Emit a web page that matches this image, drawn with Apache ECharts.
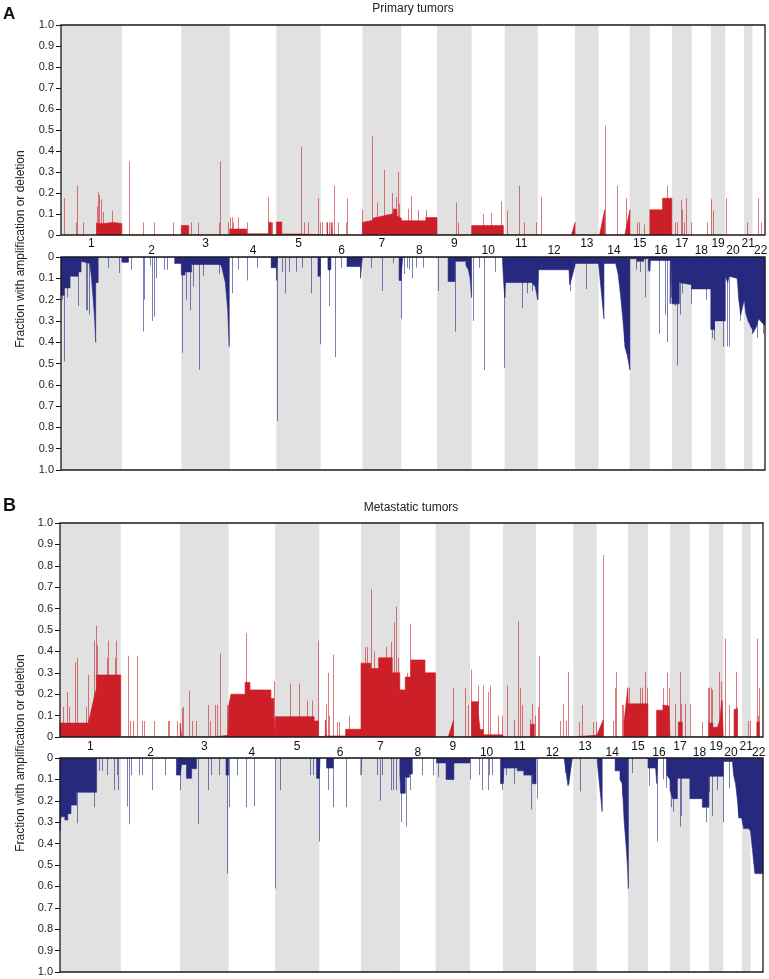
<!DOCTYPE html>
<html><head><meta charset="utf-8">
<script src="https://cdn.jsdelivr.net/npm/echarts@6/dist/echarts.min.js"></script>
<style>html,body{margin:0;padding:0;background:#fff}#c{width:769px;height:979px}</style>
</head><body><div id="c"></div>
<script>
// ---------- chromosome layout ----------
const chromNames = ['1','2','3','4','5','6','7','8','9','10','11','12','13','14','15','16','17','18','19','20','21','22'];
const chromLenMb = [249.25,243.2,198.02,191.15,180.92,171.12,159.14,146.36,141.21,135.53,135.01,133.85,115.17,107.35,102.53,90.35,81.2,78.08,59.13,63.03,48.13,51.3];
const chromCoveredFromMb = [0,0,0,0,0,0,0,0,0,0,0,0,19,19,20,0,0,0,0,0,13,16];
const yTickValues = [0,0.1,0.2,0.3,0.4,0.5,0.6,0.7,0.8,0.9,1.0];
const panelTitles = ['Primary tumors','Metastatic tumors'];
const panelLetters = ['A','B'];
const yAxisTitle = 'Fraction with amplification or deletion';

// ---------- Panel A (primary) : [chromosome, position Mb, fraction] ----------
const ampProfileA = [
 [1,146,0.055],[1,175,0.055],[1,175,0.06],[1,215,0.06],[1,215,0.055],[1,249,0.055],
 [3,0,0.045],[3,30,0.045],
 [4,0,0.028],[4,70,0.028],[4,70,0.006],[4,160,0.006],[4,160,0.06],[4,172,0.06],
 [5,0,0.062],[5,22,0.062],[5,22,0.005],[5,98,0.005],
 [6,26,0.06],[6,29,0.06],[6,29,0],[6,43,0],[6,43,0.06],[6,47,0.06],
 [7,0,0.06],[7,5,0.068],[7,43,0.07],[7,43,0.08],[7,84,0.09],[7,100,0.095],[7,125,0.1],[7,128,0.125],[7,141,0.12],[7,141,0.09],[7,159,0.08],
 [8,0,0.068],[8,100,0.068],[8,100,0.083],[8,146,0.083],
 [10,0,0.045],[10,130,0.045],
 [13,4,0],[13,19,0.06],
 [14,4,0],[14,25,0.12],
 [15,0,0],[15,21,0.12],
 [16,0,0.12],[16,52,0.12],[16,52,0.175],[16,90,0.175]
];
const ampSpikesA = [
 [1,13,0.175],[1,61,0.06],[1,67,0.235],[1,91,0.06],[1,143,0.06],[1,148,0.135],[1,152,0.205],[1,157,0.19],[1,164,0.17],[1,173,0.11],[1,209,0.115],
 [2,30,0.35],[2,85,0.06],[2,130,0.06],[2,208,0.06],
 [3,38,0.06],[3,68,0.06],[3,155,0.06],[3,160,0.35],[3,190,0.06],
 [4,0,0.085],[4,8,0.085],[4,15,0.06],[4,34,0.085],[4,70,0.06],[4,157,0.18],[4,172,0.06],
 [5,99,0.42],[5,114,0.06],[5,130,0.06],[5,171,0.175],[5,180,0.06],
 [6,5,0.06],[6,27,0.06],[6,34,0.06],[6,45,0.06],[6,56,0.235],[6,70,0.06],[6,105,0.06],[6,107,0.175],
 [7,0,0.12],[7,40,0.47],[7,58,0.155],[7,89,0.31],[7,119,0.2],[7,136,0.18],[7,144,0.3],[7,149,0.15],
 [8,28,0.125],[8,40,0.185],[8,69,0.12],[8,100,0.12],
 [9,76,0.155],[9,87,0.06],
 [10,47,0.1],[10,80,0.105],[10,119,0.16],
 [11,8,0.115],[11,59,0.235],[11,79,0.06],[11,129,0.06],
 [12,13,0.18],
 [14,25,0.52],[14,76,0.235],
 [15,3,0.175],[15,48,0.06],[15,60,0.06],[15,78,0.05],
 [16,71,0.235],
 [17,11,0.06],[17,19,0.06],[17,37,0.165],[17,41,0.12],[17,50,0.06],[17,56,0.175],[17,77,0.06],
 [18,64,0.06],[18,77,0.17],
 [19,8,0.115],
 [20,3,0.175],
 [21,24,0.06],
 [22,24,0.175],[22,35,0.06]
];
const delProfileA = [
 [1,0,0.18],[1,13,0.18],[1,13,0.145],[1,37,0.145],[1,37,0.09],[1,70,0.09],[1,70,0.07],[1,82,0.07],[1,82,0.02],[1,118,0.03],[1,125,0.1],[1,132,0.2],[1,138,0.3],[1,142,0.4],[1,142,0.12],[1,152,0.12],
 [2,0,0.025],[2,27,0.025],[2,27,0],[2,216,0],[2,216,0.03],[2,243,0.03],
 [3,0,0.085],[3,15,0.085],[3,15,0.07],[3,42,0.07],[3,42,0.035],[3,160,0.035],[3,166,0.05],[3,180,0.12],[3,190,0.25],[3,196,0.42],
 [4,170,0.05],[4,191,0.05],
 [5,0,0.11],[5,4,0.11],[5,4,0],[5,170,0],[5,170,0.09],[5,180,0.09],
 [6,30,0.06],[6,42,0.06],[6,42,0],[6,108,0],[6,108,0.045],[6,163,0.045],[6,163,0.1],[6,171,0.1],
 [7,150,0.11],[7,159,0.11],
 [8,0,0.08],[8,6,0.08],
 [9,45,0.115],[9,73,0.115],[9,73,0.02],[9,118,0.02],[9,118,0.04],[9,128,0.06],[9,135,0.1],[9,141,0.19],
 [10,126,0],[10,130,0.1],[10,135.5,0.19],
 [11,0,0.19],[11,3,0.12],[11,110,0.12],[11,125,0.14],[11,135,0.2],
 [12,0,0.2],[12,3,0.06],[12,128,0.06],[12,131,0.13],[12,133.8,0.12],
 [13,0,0.12],[13,19,0.04],[13,19,0.03],[13,115,0.03],
 [14,0,0.03],[14,4,0.03],[14,22,0.29],[14,22,0.03],[14,70,0.03],[14,80,0.08],[14,90,0.18],[14,100,0.3],[14,107,0.4],
 [15,0,0.42],[15,10,0.46],[15,21,0.53],[15,21,0.008],[15,50,0.008],[15,50,0.02],[15,78,0.02],[15,78,0.008],[15,96,0.008],[15,96,0.065],[15,102.5,0.065],
 [16,0,0.065],[16,2,0.016],[16,83,0.016],[16,83,0.22],[16,90,0.22],
 [17,0,0.22],[17,30,0.22],[17,30,0.12],[17,81,0.13],
 [18,0,0.15],[18,78,0.15],
 [19,0,0.34],[19,15,0.34],[19,15,0.3],[19,59,0.3],
 [20,0,0.09],[20,10,0.12],[20,15,0.09],[20,48,0.1],[20,50,0.12],[20,55,0.2],[20,63,0.27],
 [21,0,0.27],[21,15,0.2],[21,20,0.26],[21,30,0.3],[21,48,0.34],
 [22,0,0.36],[22,15,0.33],[22,25,0.29],[22,40,0.31],[22,51,0.32]
];
const delSpikesA = [
 [1,5,0.2],[1,14,0.49],[1,25,0.19],[1,71,0.23],[1,103,0.25],[1,108,0.25],[1,113,0.27],[1,191,0.05],[1,238,0.075],
 [2,36,0.06],[2,85,0.35],[2,90,0.2],[2,117,0.04],[2,125,0.3],[2,131,0.28],[2,139,0.1],[2,173,0.06],[2,183,0.06],
 [3,1,0.45],[3,19,0.2],[3,36,0.25],[3,47,0.14],[3,73,0.53],[3,90,0.09],[3,154,0.08],
 [4,11,0.17],[4,35,0.06],[4,69,0.11],[4,110,0.05],[4,168,0.05],
 [5,1,0.77],[5,21,0.07],[5,35,0.17],[5,52,0.07],[5,80,0.07],[5,105,0.05],[5,140,0.17],[5,178,0.41],
 [6,34,0.23],[6,60,0.47],[6,83,0.05],
 [7,34,0.05],[7,81,0.16],[7,124,0.03],[7,156,0.29],
 [8,11,0.08],[8,22,0.05],[8,31,0.06],[8,43,0.1],[8,60,0.05],[8,90,0.05],
 [9,2,0.16],[9,72,0.35],
 [10,4,0.3],[10,31,0.05],[10,52,0.53],[10,95,0.07],[10,133,0.52],
 [11,69,0.24],[11,92,0.17],[11,113,0.16],
 [12,133,0.16],
 [13,62,0.15],
 [15,45,0.06],[15,62,0.07],[15,82,0.19],[15,100,0.07],
 [16,37,0.36],[16,61,0.27],[16,71,0.4],[16,85,0.19],
 [17,11,0.23],[17,21,0.51],[17,35,0.27],[17,42,0.17],[17,80,0.22],
 [18,60,0.2],
 [19,3,0.38],[19,12,0.39],[19,50,0.42],
 [20,8,0.42],[20,15,0.42],[20,60,0.3],
 [21,22,0.25],[21,40,0.33],
 [22,20,0.38],[22,45,0.36]
];

// ---------- Panel B (metastatic) ----------
const ampProfileB = [
 [1,0,0.065],[1,116,0.065],[1,125,0.11],[1,135,0.16],[1,145,0.21],[1,149,0.22],[1,149,0.29],[1,249,0.29],
 [3,0,0.065],[3,6,0.065],[3,6,0],[3,135,0],[3,135,0.008],[3,196,0.008],
 [4,0,0.14],[4,10,0.2],[4,68,0.2],[4,68,0.255],[4,88,0.255],[4,88,0.22],[4,174,0.22],[4,174,0.18],[4,186,0.18],[4,186,0.095],[4,191,0.095],
 [5,0,0.095],[5,160,0.095],[5,160,0.075],[5,178,0.075],
 [6,0,0.005],[6,25,0.005],[6,25,0.08],[6,29,0.08],[6,29,0.005],[6,108,0.005],[6,108,0.036],[6,171,0.036],
 [7,0,0.345],[7,40,0.345],[7,40,0.32],[7,72,0.32],[7,72,0.37],[7,128,0.37],[7,128,0.3],[7,159,0.3],
 [8,0,0.22],[8,22,0.22],[8,22,0.28],[8,45,0.28],[8,45,0.36],[8,103,0.36],[8,103,0.3],[8,146,0.3],
 [9,52,0],[9,73,0.077],
 [10,6,0.165],[10,34,0.165],[10,34,0.11],[10,41,0.11],[10,41,0.035],[10,55,0.035],[10,55,0.01],[10,135,0.01],
 [11,112,0.06],[11,128,0.06],
 [13,8,0.008],[13,115,0.008],
 [14,6,0],[14,26,0.08],
 [15,4,0.07],[15,20,0.23],[15,21,0.155],[15,102,0.155],
 [16,35,0.125],[16,61,0.125],[16,61,0.15],[16,86,0.145],[16,90,0.14],
 [17,34,0.07],[17,50,0.07],
 [19,0,0.065],[19,16,0.065],[19,16,0.045],[19,35,0.045],[19,45,0.08],[19,52,0.17],[19,59,0.17],
 [20,44,0.13],[20,57,0.13],
 [22,26,0.07],[22,36,0.07]
];
const ampSpikesB = [
 [1,11,0.14],[1,30,0.21],[1,38,0.14],[1,61,0.35],[1,70,0.37],[1,107,0.14],[1,116,0.29],[1,141,0.45],[1,149,0.52],[1,153,0.43],[1,193,0.37],[1,197,0.45],[1,225,0.37],[1,229,0.45],
 [2,29,0.38],[2,38,0.075],[2,51,0.075],[2,65,0.38],[2,86,0.075],[2,94,0.075],[2,137,0.075],[2,193,0.075],[2,199,0.075],[2,232,0.075],
 [3,6,0.135],[3,11,0.14],[3,37,0.215],[3,50,0.075],[3,64,0.075],[3,115,0.15],[3,123,0.075],[3,143,0.15],[3,150,0.15],[3,164,0.39],[3,191,0.15],
 [4,70,0.485],[4,188,0.26],
 [5,61,0.25],[5,99,0.25],[5,129,0.17],[5,150,0.17],[5,175,0.45],
 [6,27,0.155],[6,36,0.3],[6,41,0.1],[6,56,0.385],[6,71,0.07],[6,82,0.07],[6,122,0.1],
 [7,16,0.42],[7,26,0.42],[7,41,0.69],[7,55,0.4],[7,103,0.42],[7,122,0.445],[7,137,0.535],[7,143,0.61],[7,152,0.37],
 [8,28,0.3],[8,42,0.53],
 [9,73,0.23],[9,120,0.23],[9,134,0.15],
 [10,4,0.315],[10,34,0.24],[10,55,0.24],[10,73,0.21],[10,82,0.24],[10,116,0.1],[10,129,0.1],
 [11,14,0.24],[11,45,0.08],[11,60,0.54],[11,69,0.23],[11,76,0.15],[11,109,0.08],[11,120,0.155],[11,130,0.1],
 [12,6,0.14],[12,14,0.38],[12,97,0.075],[12,112,0.155],[12,121,0.075],[12,131,0.305],
 [13,42,0.07],[13,53,0.15],[13,100,0.07],[13,113,0.07],
 [14,26,0.85],[14,66,0.075],[14,73,0.23],[14,77,0.305],[14,102,0.15],[14,107,0.15],
 [15,24,0.23],[15,68,0.23],[15,79,0.23],[15,90,0.305],[15,97,0.23],
 [16,63,0.23],[16,77,0.3],[16,84,0.23],
 [17,19,0.155],[17,39,0.305],[17,46,0.155],[17,60,0.155],[17,80,0.155],
 [18,51,0.07],[18,74,0.23],
 [19,1,0.23],[19,7,0.23],[19,14,0.22],[19,41,0.305],[19,50,0.26],[19,55,0.17],
 [20,6,0.46],[20,23,0.15],[20,51,0.305],[20,55,0.14],
 [21,39,0.075],[21,46,0.075],
 [22,26,0.46],[22,29,0.1],[22,35,0.23]
];
const delProfileB = [
 [1,0,0.34],[1,4,0.34],[1,4,0.275],[1,20,0.275],[1,20,0.29],[1,32,0.29],[1,32,0.26],[1,45,0.26],[1,45,0.22],[1,68,0.22],[1,68,0.16],[1,150,0.16],
 [2,228,0.08],[2,243,0.08],
 [3,0,0.08],[3,6,0.08],[3,6,0.03],[3,26,0.03],[3,26,0.095],[3,47,0.095],[3,47,0.05],[3,67,0.05],[3,67,0],[3,188,0],[3,188,0.08],[3,198,0.08],
 [5,170,0.095],[5,180,0.095],
 [6,0,0.095],[6,3,0.095],[6,3,0],[6,30,0],[6,30,0.047],[6,57,0.047],
 [7,0,0.08],[7,2,0.08],
 [8,0,0.07],[8,3,0.165],[8,22,0.165],[8,22,0.09],[8,39,0.09],[8,39,0.075],[8,51,0.075],
 [9,4,0.023],[9,43,0.023],[9,43,0.1],[9,75,0.1],[9,75,0.023],[9,141,0.023],
 [10,125,0],[10,125,0.12],[10,135,0.12],
 [11,0,0.12],[11,3,0.12],[11,3,0.047],[11,58,0.047],[11,58,0.06],[11,85,0.06],[11,85,0.08],[11,120,0.08],[11,120,0.12],[11,135,0.12],
 [12,115,0],[12,131,0.13],[12,133.8,0.12],
 [13,0,0.12],[13,15,0],
 [14,2,0.02],[14,22,0.25],[14,22,0],[14,75,0],[14,75,0.06],[14,95,0.06],[14,95,0.1],[14,104,0.12],[14,107,0.18],
 [15,0,0.19],[15,5,0.3],[15,12,0.4],[15,18,0.5],[15,22,0.61],
 [16,0,0.047],[16,31,0.047],[16,36,0.12],[16,38,0.05],[16,40,0],[16,77,0],[16,77,0.08],[16,90,0.1],
 [17,0,0.15],[17,10,0.19],[17,30,0.19],[17,30,0.095],[17,81,0.095],
 [18,0,0.19],[18,51,0.19],[18,51,0.23],[18,78,0.23],
 [19,0,0.085],[19,59,0.085],
 [20,0,0.016],[20,37,0.016],[20,42,0.08],[20,50,0.12],[20,58,0.2],[20,63,0.27],
 [21,0,0.28],[21,12,0.28],[21,20,0.33],[21,40,0.33],[21,48,0.34],
 [22,0,0.34],[22,18,0.54],[22,51,0.54]
];
const delSpikesB = [
 [1,68,0.305],[1,141,0.23],[1,159,0.06],[1,173,0.06],[1,194,0.08],[1,222,0.15],[1,232,0.08],[1,239,0.15],
 [2,24,0.227],[2,32,0.31],[2,41,0.08],[2,76,0.08],[2,87,0.08],[2,126,0.15],[2,182,0.08],
 [3,0,0.15],[3,72,0.31],[3,114,0.15],[3,126,0.08],[3,161,0.08],[3,193,0.54],
 [4,3,0.23],[4,34,0.08],[4,70,0.23],[4,105,0.225],
 [5,1,0.61],[5,20,0.15],[5,143,0.08],[5,154,0.08],[5,177,0.08],
 [6,0,0.39],[6,34,0.15],[6,57,0.23],[6,108,0.23],
 [7,64,0.08],[7,78,0.2],[7,87,0.08],[7,123,0.15],[7,132,0.15],[7,143,0.15],
 [8,4,0.3],[8,27,0.32],[8,42,0.15],[8,90,0.08],[8,134,0.08],
 [9,11,0.09],[9,141,0.1],
 [10,36,0.08],[10,51,0.15],[10,73,0.15],[10,78,0.08],[10,90,0.08],[10,130,0.15],
 [11,12,0.08],[11,46,0.12],[11,116,0.24],
 [12,5,0.19],[12,118,0.07],
 [13,46,0.156],
 [15,36,0.07],
 [16,2,0.13],[16,36,0.39],[16,63,0.1],[16,72,0.14],
 [17,2,0.23],[17,13,0.25],[17,39,0.32],[17,46,0.27],
 [18,65,0.3],
 [19,0,0.16],[19,11,0.27],[19,34,0.15],[19,59,0.3],
 [20,23,0.14],[20,48,0.1],[20,62,0.22]
];

// ---------- helpers ----------
const offs = []; let acc = 0;
chromLenMb.forEach(l => { offs.push(acc); acc += l; });
const genomeLen = acc;
const gpos = (c, p) => offs[c - 1] + p;

function buildProfile(pts) {
  const out = []; let cur = null, lastX = null;
  pts.forEach(([c, p, v]) => {
    const x = gpos(c, p);
    if (c !== cur) { if (lastX !== null) out.push([lastX, 0]); cur = c; out.push([x, 0]); }
    out.push([x, v]); lastX = x;
  });
  if (lastX !== null) out.push([lastX, 0]);
  return out;
}
const buildSpikes = pts => pts.map(([c, p, v]) => [gpos(c, p), v]);
const bandData = [];
chromLenMb.forEach((l, i) => { if (i % 2 === 0) bandData.push([offs[i] + chromCoveredFromMb[i], offs[i] + l]); });
const labelData = chromLenMb.map((l, i) => [offs[i] + (chromCoveredFromMb[i] + l) / 2, i]);

const FONT = '"Liberation Sans", Arial, Helvetica, sans-serif';
const RED = '#cc1f28', RED_SPIKE = 'rgba(204,31,40,0.6)';
const BLUE = '#27297f', BLUE_SPIKE = 'rgba(39,41,127,0.6)';
const BAND = '#e1e1e1';

const grids = [
  {left: 61, top: 25, width: 704, height: 210},
  {left: 61, top: 257, width: 704, height: 213},
  {left: 60, top: 523, width: 703, height: 214},
  {left: 60, top: 758, width: 703, height: 214}
];
const gridSpec = [
  {profile: ampProfileA, spikes: ampSpikesA, inverse: false, fill: RED, spike: RED_SPIKE, labels: [8.5, 15.5]},
  {profile: delProfileA, spikes: delSpikesA, inverse: true, fill: BLUE, spike: BLUE_SPIKE},
  {profile: ampProfileB, spikes: ampSpikesB, inverse: false, fill: RED, spike: RED_SPIKE, labels: [10, 15.5]},
  {profile: delProfileB, spikes: delSpikesB, inverse: true, fill: BLUE, spike: BLUE_SPIKE}
];

const xAxes = [], yAxes = [], series = [];
gridSpec.forEach((s, k) => {
  xAxes.push({gridIndex: k, type: 'value', min: 0, max: genomeLen, show: false});
  yAxes.push({
    gridIndex: k, type: 'value', min: 0, max: 1, interval: 0.1, inverse: s.inverse,
    axisLine: {show: false},
    axisTick: {show: true, inside: false, length: 5, lineStyle: {color: '#111', width: 1}},
    splitLine: {show: false},
    axisLabel: {fontSize: 11, fontFamily: FONT, color: '#222', margin: 7,
      formatter: v => (Math.abs(v) < 1e-9 ? '0' : v.toFixed(1))}
  });
  series.push({
    type: 'custom', xAxisIndex: k, yAxisIndex: k, z: 1, silent: true, clip: true,
    data: bandData,
    renderItem: (params, api) => {
      const a = api.coord([api.value(0), 0]), b = api.coord([api.value(1), 1]);
      return {type: 'rect', shape: {x: a[0], y: Math.min(a[1], b[1]), width: b[0] - a[0], height: Math.abs(b[1] - a[1])},
        style: {fill: BAND}};
    }
  });
  series.push({
    type: 'custom', xAxisIndex: k, yAxisIndex: k, z: 2, silent: true, clip: true,
    data: buildSpikes(s.spikes),
    renderItem: (params, api) => {
      const a = api.coord([api.value(0), 0]), b = api.coord([api.value(0), api.value(1)]);
      const x = Math.round(a[0]) + 0.5;
      return {type: 'line', shape: {x1: x, y1: a[1], x2: x, y2: b[1]}, style: {stroke: s.spike, lineWidth: 1}};
    }
  });
  series.push({
    type: 'line', xAxisIndex: k, yAxisIndex: k, z: 3, silent: true, showSymbol: false, symbol: 'none',
    data: buildProfile(s.profile),
    lineStyle: {width: 0.6, color: s.fill},
    areaStyle: {color: s.fill, opacity: 1, origin: 'auto'}
  });
  if (s.labels) {
    const off = s.labels;
    series.push({
      type: 'custom', xAxisIndex: k, yAxisIndex: k, z: 5, silent: true, clip: false,
      data: labelData,
      renderItem: (params, api) => {
        const c = api.coord([api.value(0), 0]); const i = api.value(1);
        return {type: 'text', x: c[0], y: c[1] + (i % 2 === 0 ? off[0] : off[1]),
          style: {text: chromNames[i], fill: '#111', font: '12px ' + FONT, align: 'center', verticalAlign: 'middle'}};
      }
    });
  }
});

const option = {
  animation: false,
  backgroundColor: '#fff',
  grid: grids.map(g => Object.assign({show: true, z: 20, borderColor: '#1a1a1a', borderWidth: 1.3,
    backgroundColor: 'rgba(0,0,0,0)', outerBoundsMode: 'none', containLabel: false}, g)),
  title: [
    {text: panelLetters[0], left: 3, top: 6, padding: 0, textStyle: {fontSize: 17, fontWeight: 'bold', fontFamily: FONT, color: '#111'}},
    {text: panelTitles[0], left: 413, top: 3, padding: 0, textAlign: 'center', textStyle: {fontSize: 12, fontWeight: 'normal', fontFamily: FONT, color: '#222'}},
    {text: panelLetters[1], left: 3, top: 497, padding: 0, textStyle: {fontSize: 18, fontWeight: 'bold', fontFamily: FONT, color: '#111'}},
    {text: panelTitles[1], left: 411, top: 502, padding: 0, textAlign: 'center', textStyle: {fontSize: 12, fontWeight: 'normal', fontFamily: FONT, color: '#222'}}
  ],
  graphic: [
    {type: 'text', x: 21, y: 249, rotation: Math.PI / 2,
      style: {text: yAxisTitle, font: '12px ' + FONT, fill: '#222', align: 'center', verticalAlign: 'middle'}},
    {type: 'text', x: 21, y: 753, rotation: Math.PI / 2,
      style: {text: yAxisTitle, font: '12px ' + FONT, fill: '#222', align: 'center', verticalAlign: 'middle'}}
  ],
  xAxis: xAxes,
  yAxis: yAxes,
  series: series
};
const chart = echarts.init(document.getElementById('c'), null, {renderer: 'canvas'});
chart.setOption(option);
</script></body></html>
